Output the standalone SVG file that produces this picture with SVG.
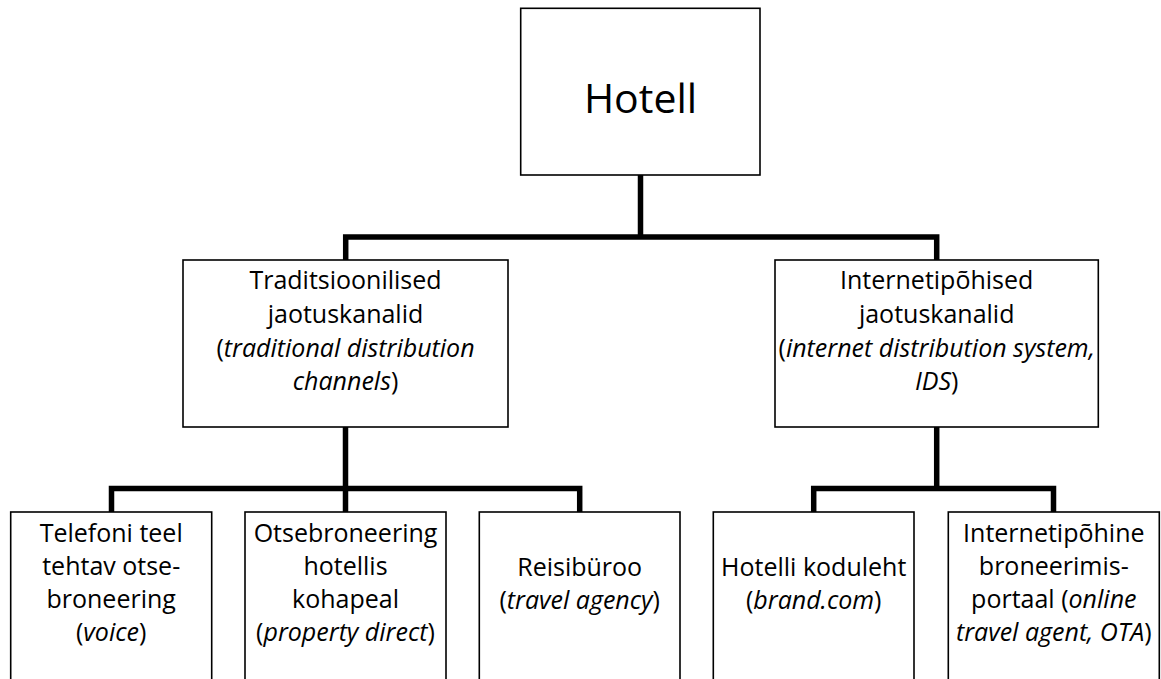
<svg xmlns="http://www.w3.org/2000/svg" width="1161" height="679" viewBox="0 0 1161 679">
<style>
.box{fill:#fff;stroke:#000;stroke-width:1.6}
.t{font-family:"Open Sans","Noto Sans",sans-serif;font-size:25px;fill:#000;text-anchor:middle}
.big{font-size:41px}
.i{font-style:italic}
.c{fill:none;stroke:#000;stroke-width:5.5;stroke-linejoin:miter}
</style>
<rect width="1161" height="679" fill="#fff"/>
<g id="connectors">
<path class="c" d="M640.5,175 V237"/>
<path class="c" d="M345.7,260 V237 H936.7 V260"/>
<path class="c" d="M345.5,427 V512"/>
<path class="c" d="M111.5,512 V488.5 H579.7 V512"/>
<path class="c" d="M936.7,427 V488.5"/>
<path class="c" d="M813.7,512 V488.5 H1053.5 V512"/>
</g>
<g id="hotell">
<rect class="box" x="520.7" y="8.3" width="239.3" height="166.7"/>
<text class="t big" x="640.5" y="113">Hotell</text>
</g>
<g id="traditsioonilised">
<rect class="box" x="183" y="260" width="325" height="167"/>
<text class="t" x="345.5" y="289">Traditsioonilised</text>
<text class="t" x="345.5" y="323">jaotuskanalid</text>
<text class="t" x="345.5" y="357">(<tspan class="i">traditional distribution</tspan></text>
<text class="t" x="345.5" y="390"><tspan class="i">channels</tspan>)</text>
</g>
<g id="internetipohised">
<rect class="box" x="775" y="260" width="323.3" height="167"/>
<text class="t" x="936.7" y="289">Internetipõhised</text>
<text class="t" x="936.7" y="323">jaotuskanalid</text>
<text class="t" x="936.7" y="357">(<tspan class="i">internet distribution system,</tspan></text>
<text class="t" x="936.7" y="390"><tspan class="i">IDS</tspan>)</text>
</g>
<g id="telefon">
<rect class="box" x="10.7" y="512" width="201" height="200"/>
<text class="t" x="111.2" y="542">Telefoni teel</text>
<text class="t" x="111.2" y="575">tehtav otse-</text>
<text class="t" x="111.2" y="608">broneering</text>
<text class="t" x="111.2" y="641">(<tspan class="i">voice</tspan>)</text>
</g>
<g id="otsebroneering">
<rect class="box" x="245" y="512" width="201" height="200"/>
<text class="t" x="345.5" y="542">Otsebroneering</text>
<text class="t" x="345.5" y="575">hotellis</text>
<text class="t" x="345.5" y="608">kohapeal</text>
<text class="t" x="345.5" y="641">(<tspan class="i">property direct</tspan>)</text>
</g>
<g id="reisiburoo">
<rect class="box" x="479.3" y="512" width="200.7" height="200"/>
<text class="t" x="579.7" y="576">Reisibüroo</text>
<text class="t" x="579.7" y="609">(<tspan class="i">travel agency</tspan>)</text>
</g>
<g id="koduleht">
<rect class="box" x="713.3" y="512" width="200.7" height="200"/>
<text class="t" x="813.7" y="576">Hotelli koduleht</text>
<text class="t" x="813.7" y="609">(<tspan class="i">brand.com</tspan>)</text>
</g>
<g id="portaal">
<rect class="box" x="948.3" y="512" width="211" height="200"/>
<text class="t" x="1053.8" y="542">Internetipõhine</text>
<text class="t" x="1053.8" y="575">broneerimis-</text>
<text class="t" x="1053.8" y="608">portaal (<tspan class="i">online</tspan></text>
<text class="t" x="1053.8" y="641"><tspan class="i">travel agent, OTA</tspan>)</text>
</g>
</svg>
